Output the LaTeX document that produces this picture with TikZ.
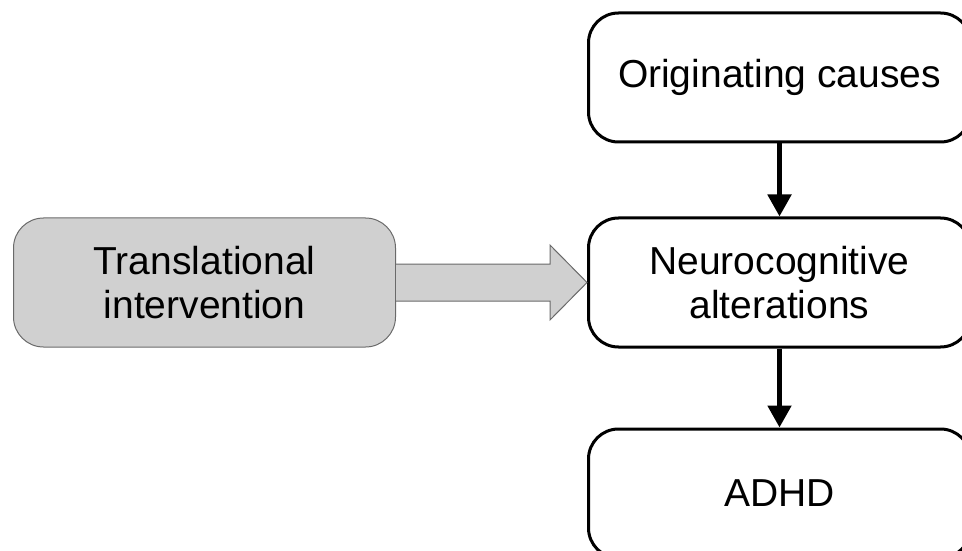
\documentclass[tikz,border=0pt]{standalone}
\usepackage{fontspec}
\setmainfont{Liberation Sans}
\usepackage{tikz}
\usetikzlibrary{positioning,arrows.meta,calc}

\definecolor{boxgray}{HTML}{D0D0D0}
\definecolor{edgegray}{HTML}{6A6A6A}

\begin{document}
\begin{tikzpicture}[x=1pt,y=1pt,node distance=76pt,
	box/.style={draw,line width=3pt,rounded corners=30pt,minimum width=382pt,minimum height=129pt,
		align=center,font=\fontsize{39}{44}\selectfont},
	graybox/.style={box,fill=boxgray,draw=edgegray,line width=1pt},
	flow/.style={-{Triangle[length=22pt,width=23pt]},line width=5pt},
	blockarrow/.style={fill=boxgray,draw=edgegray,line width=1pt}]
	\useasboundingbox (0,0) rectangle (962,550);
			\node[graybox] (trans) at (204.5,267.5) {Translational\\intervention};
			\node[box] (neuro) [right=191pt of trans] {Neurocognitive\\alterations};
			\node[box] (causes) [above=73pt of neuro] {Originating causes};
			\node[box] (adhd) [below=79pt of neuro] {ADHD};

			\draw[flow] (causes) -- (neuro);
			\draw[flow] (neuro) -- (adhd);
			\draw[blockarrow] ($(trans.east)+(0,18.5)$) -- ($(neuro.west)+(-37,18.5)$)
				-- ($(neuro.west)+(-37,37.5)$) -- (neuro.west) -- ($(neuro.west)+(-37,-37.5)$)
				-- ($(neuro.west)+(-37,-18.5)$) -- ($(trans.east)+(0,-18.5)$);
		\end{tikzpicture}
\end{document}
